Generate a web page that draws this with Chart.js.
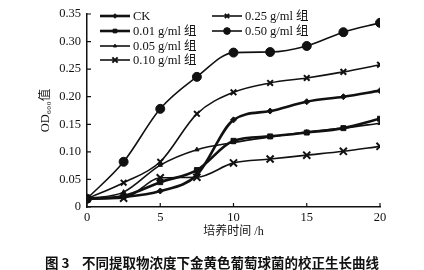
<!DOCTYPE html>
<html>
<head>
<meta charset="utf-8">
<script src="https://cdn.jsdelivr.net/npm/chart.js@4"></script>
<style>
  html, body { margin: 0; padding: 0; background: #fff; }
  #wrap { width: 424px; height: 270px; position: relative; }
  #caption {
    position: absolute; left: 45px; top: 254px; width: 345px;
    font-family: 'Noto Sans CJK SC', sans-serif; font-weight: bold;
    font-size: 13.5px; line-height: 16px; color: #111; white-space: nowrap;
  }
  #caption span { display: inline-block; width: 37px; }
</style>
</head>
<body>
<div id="wrap">
  <canvas id="growthChart" width="424" height="270"></canvas>
  <div id="caption"><span>图 3</span>不同提取物浓度下金黄色葡萄球菌的校正生长曲线</div>
</div>
<script>
// time points (h)
const hours = [0, 2.5, 5, 7.5, 10, 12.5, 15, 17.5, 20];
const xTicks = [0, 5, 10, 15, 20];

// corrected OD600 values
const ckValues   = [0.015, 0.018, 0.029, 0.058, 0.158, 0.174, 0.191, 0.200, 0.211];
const g001Values = [0.015, 0.020, 0.045, 0.067, 0.120, 0.128, 0.135, 0.143, 0.160];
const g005Values = [0.015, 0.027, 0.076, 0.104, 0.117, 0.127, 0.136, 0.143, 0.152];
const g010Values = [0.015, 0.016, 0.053, 0.054, 0.080, 0.087, 0.094, 0.101, 0.110];
const g025Values = [0.015, 0.044, 0.082, 0.169, 0.208, 0.225, 0.234, 0.245, 0.258];
const g050Values = [0.015, 0.082, 0.178, 0.236, 0.280, 0.281, 0.292, 0.317, 0.334];

const seriesNames = ['CK', '0.01 g/ml 组', '0.05 g/ml 组', '0.10 g/ml 组', '0.25 g/ml 组', '0.50 g/ml 组'];

const serif = "'Liberation Serif', 'Noto Sans CJK SC', serif";
const ink = '#111';

function makeSet(name, values, style, radius, width) {
    return {
        label: name,
        data: hours.map((h, i) => ({ x: h, y: values[i] })),
        borderColor: ink,
        backgroundColor: ink,
        borderWidth: width,
        pointStyle: style,
        pointRadius: radius,
        pointBorderWidth: style === 'crossRot' ? 2 : 1,
        pointBackgroundColor: ink,
        pointBorderColor: ink,
        cubicInterpolationMode: 'monotone',
        fill: false
    };
}

// legend drawn inside the plot, two columns
const legendSlots = [
    { x: 100, y: 16 }, { x: 100, y: 31 }, { x: 100, y: 46 }, { x: 100, y: 60 },
    { x: 212, y: 16 }, { x: 212, y: 31 }
];

const insideLegend = {
    id: 'insideLegend',
    afterDraw(chart) {
        const ctx = chart.ctx;
        ctx.save();
        chart.data.datasets.forEach((ds, i) => {
            const s = legendSlots[i];
            ctx.strokeStyle = ink;
            ctx.fillStyle = ink;
            ctx.lineWidth = ds.borderWidth;
            ctx.beginPath();
            ctx.moveTo(s.x, s.y);
            ctx.lineTo(s.x + 30, s.y);
            ctx.stroke();
            ctx.lineWidth = ds.pointBorderWidth;
            Chart.helpers.drawPoint(ctx, {
                pointStyle: ds.pointStyle,
                radius: ds.pointRadius * 0.75,
                borderWidth: ds.pointBorderWidth,
                rotation: 0
            }, s.x + 15, s.y);
            ctx.font = '12.5px ' + serif;
            ctx.textBaseline = 'middle';
            ctx.textAlign = 'left';
            ctx.fillText(ds.label, s.x + 33, s.y + 1);
        });

        // short inward ticks
        const xs = chart.scales.x, ys = chart.scales.y;
        ctx.lineWidth = 1.2;
        ctx.beginPath();
        xTicks.forEach(t => {
            const px = xs.getPixelForValue(t);
            ctx.moveTo(px, ys.bottom);
            ctx.lineTo(px, ys.bottom - 4);
        });
        ys.ticks.forEach(t => {
            const py = ys.getPixelForValue(t.value);
            ctx.moveTo(xs.left, py);
            ctx.lineTo(xs.left + 4, py);
        });
        ctx.stroke();
        ctx.restore();
    }
};

const growthChart = new Chart(document.getElementById('growthChart').getContext('2d'), {
    type: 'line',
    data: {
        datasets: [
            makeSet(seriesNames[0], ckValues, 'rectRot', 3, 2.6),
            makeSet(seriesNames[1], g001Values, 'rect', 3.5, 2.6),
            makeSet(seriesNames[2], g005Values, 'triangle', 2.5, 1.6),
            makeSet(seriesNames[3], g010Values, 'crossRot', 5, 1.6),
            makeSet(seriesNames[4], g025Values, 'crossRot', 4, 1.6),
            makeSet(seriesNames[5], g050Values, 'circle', 4.5, 1.6)
        ]
    },
    options: {
        responsive: false,
        animation: false,
        layout: { padding: { top: 14, right: 44, bottom: 31, left: 0 } },
        plugins: {
            legend: { display: false },
            tooltip: { enabled: false }
        },
        scales: {
            x: {
                type: 'linear',
                min: 0,
                max: 20,
                afterFit: s => { s.height = 32; },
                afterBuildTicks: s => { s.ticks = xTicks.map(v => ({ value: v })); },
                grid: { display: false, drawTicks: false },
                border: { display: true, color: ink, width: 1.5 },
                ticks: { color: ink, padding: 3, font: { family: serif, size: 12.5 } },
                title: {
                    display: true,
                    text: '培养时间 /h',
                    color: ink,
                    font: { family: serif, size: 12 },
                    padding: { top: 0, bottom: 0 }
                }
            },
            y: {
                min: 0,
                max: 0.35,
                afterFit: s => { s.width = 87; },
                grid: { display: false, drawTicks: false },
                border: { display: true, color: ink, width: 1.5 },
                ticks: {
                    stepSize: 0.05,
                    color: ink,
                    padding: 6,
                    font: { family: serif, size: 12.5 },
                    callback: v => (v === 0 ? '0' : v.toFixed(2))
                },
                title: {
                    display: true,
                    text: 'OD₆₀₀值',
                    color: ink,
                    font: { family: serif, size: 12.5 },
                    padding: { top: 38, bottom: 0 }
                }
            }
        }
    },
    plugins: [insideLegend]
});
</script>
</body>
</html>
